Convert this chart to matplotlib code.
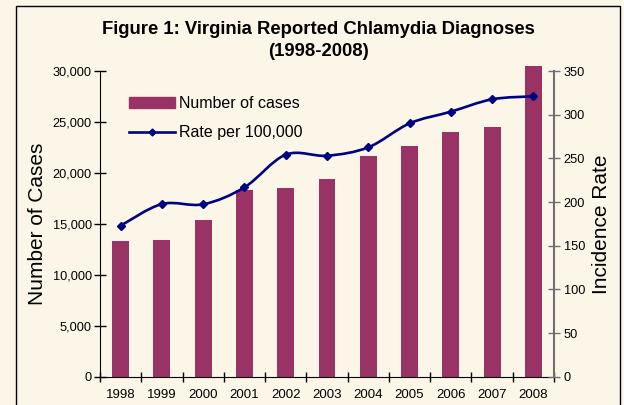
import matplotlib.pyplot as plt
import numpy as np
from matplotlib.path import Path
from matplotlib.patches import PathPatch, Rectangle
from matplotlib.lines import Line2D

# data
years = ['1998', '1999', '2000', '2001', '2002', '2003',
         '2004', '2005', '2006', '2007', '2008']
cases = [13320, 13420, 15380, 18320, 18520, 19400,
         21660, 22640, 24010, 24500, 30490]
rate = [172.9, 197.7, 197.4, 216.8, 254.2, 253.0,
        262.6, 290.0, 303.4, 317.6, 321.0]

case_ticks = [0, 5000, 10000, 15000, 20000, 25000, 30000]
rate_ticks = [0, 50, 100, 150, 200, 250, 300, 350]

BG = '#fcf6e9'
BAR = '#993366'
LINE = '#000080'

plt.rcParams['font.family'] = ['Liberation Sans', 'DejaVu Sans']

fig = plt.figure(figsize=(6.24, 4.05), dpi=100, facecolor=BG)
# chart border
fig.patches.append(Rectangle((16 / 624, -0.01), (620 - 16) / 624, (405 - 6) / 405 + 0.01,
                             transform=fig.transFigure, fill=False,
                             edgecolor='black', linewidth=1.0))

ax = fig.add_axes([100 / 624, (405 - 376.7) / 405, 454 / 624, 305.7 / 405])
ax.set_facecolor('none')
x = np.arange(len(years))

ax.bar(x, cases, width=0.41, color=BAR, clip_on=False, zorder=2)
ax.set_xlim(-0.5, len(years) - 0.5)
ax.set_ylim(0, 30000)
ax.set_yticks(case_ticks)
ax.set_yticklabels([f'{v:,}' for v in case_ticks])
ax.set_xticks(x)
ax.set_xticklabels(years)
ax.set_xticks(np.arange(-0.5, len(years)), minor=True)
ax.tick_params(axis='x', which='major', length=0, pad=9, labelsize=9.5)
ax.tick_params(axis='x', which='minor', length=7, direction='inout', width=1)
ax.tick_params(axis='y', length=8, direction='inout', width=1, labelsize=9.2, pad=2)
ax.spines['top'].set_visible(False)
ax.spines['right'].set_visible(False)
ax.set_ylabel('Number of Cases', fontsize=15, labelpad=4)

ax2 = ax.twinx()
ax2.set_ylim(0, 350)
ax2.set_yticks(rate_ticks)
ax2.tick_params(axis='y', length=8, direction='inout', width=1, labelsize=9.2, pad=3,
                color='#707070')
for s in ['top', 'left', 'bottom']:
    ax2.spines[s].set_visible(False)
ax2.spines['right'].set_color('#707070')
ax2.spines['right'].set_linewidth(1.5)
ax2.set_ylabel('Incidence Rate', fontsize=15, labelpad=5)

# smoothed line like Excel (Bezier segments through the points)
pts = np.column_stack([x, rate])
verts = [pts[0]]
codes = [Path.MOVETO]
for i in range(len(pts) - 1):
    p0 = pts[max(i - 1, 0)]
    p1 = pts[i]
    p2 = pts[i + 1]
    p3 = pts[min(i + 2, len(pts) - 1)]
    c1 = p1 + (p2 - p0) / 6
    c2 = p2 - (p3 - p1) / 6
    verts += [c1, c2, p2]
    codes += [Path.CURVE4] * 3
ax2.add_patch(PathPatch(Path(verts, codes), fill=False, edgecolor=LINE,
                        linewidth=1.9, zorder=3))
ax2.plot(x, rate, linestyle='none', marker='D', markersize=4.5, color=LINE, zorder=4)

handles = [Rectangle((0, 0), 1, 1, color=BAR),
           Line2D([], [], color=LINE, linewidth=1.9, marker='D', markersize=3.5)]
ax2.legend(handles, ['Number of cases', 'Rate per 100,000'],
           loc='upper left', bbox_to_anchor=(0.05, 0.938), frameon=False,
           fontsize=11.5, handlelength=2.88, handletextpad=0.25, labelspacing=0.88,
           borderaxespad=0)

fig.text(0.511, 1 - 30 / 405, 'Figure 1: Virginia Reported Chlamydia Diagnoses',
         ha='center', va='center', fontsize=13.3, fontweight='bold')
fig.text(0.511, 1 - 52 / 405, '(1998-2008)',
         ha='center', va='center', fontsize=13.3, fontweight='bold')

fig.savefig('out.png', dpi=100, facecolor=BG)
